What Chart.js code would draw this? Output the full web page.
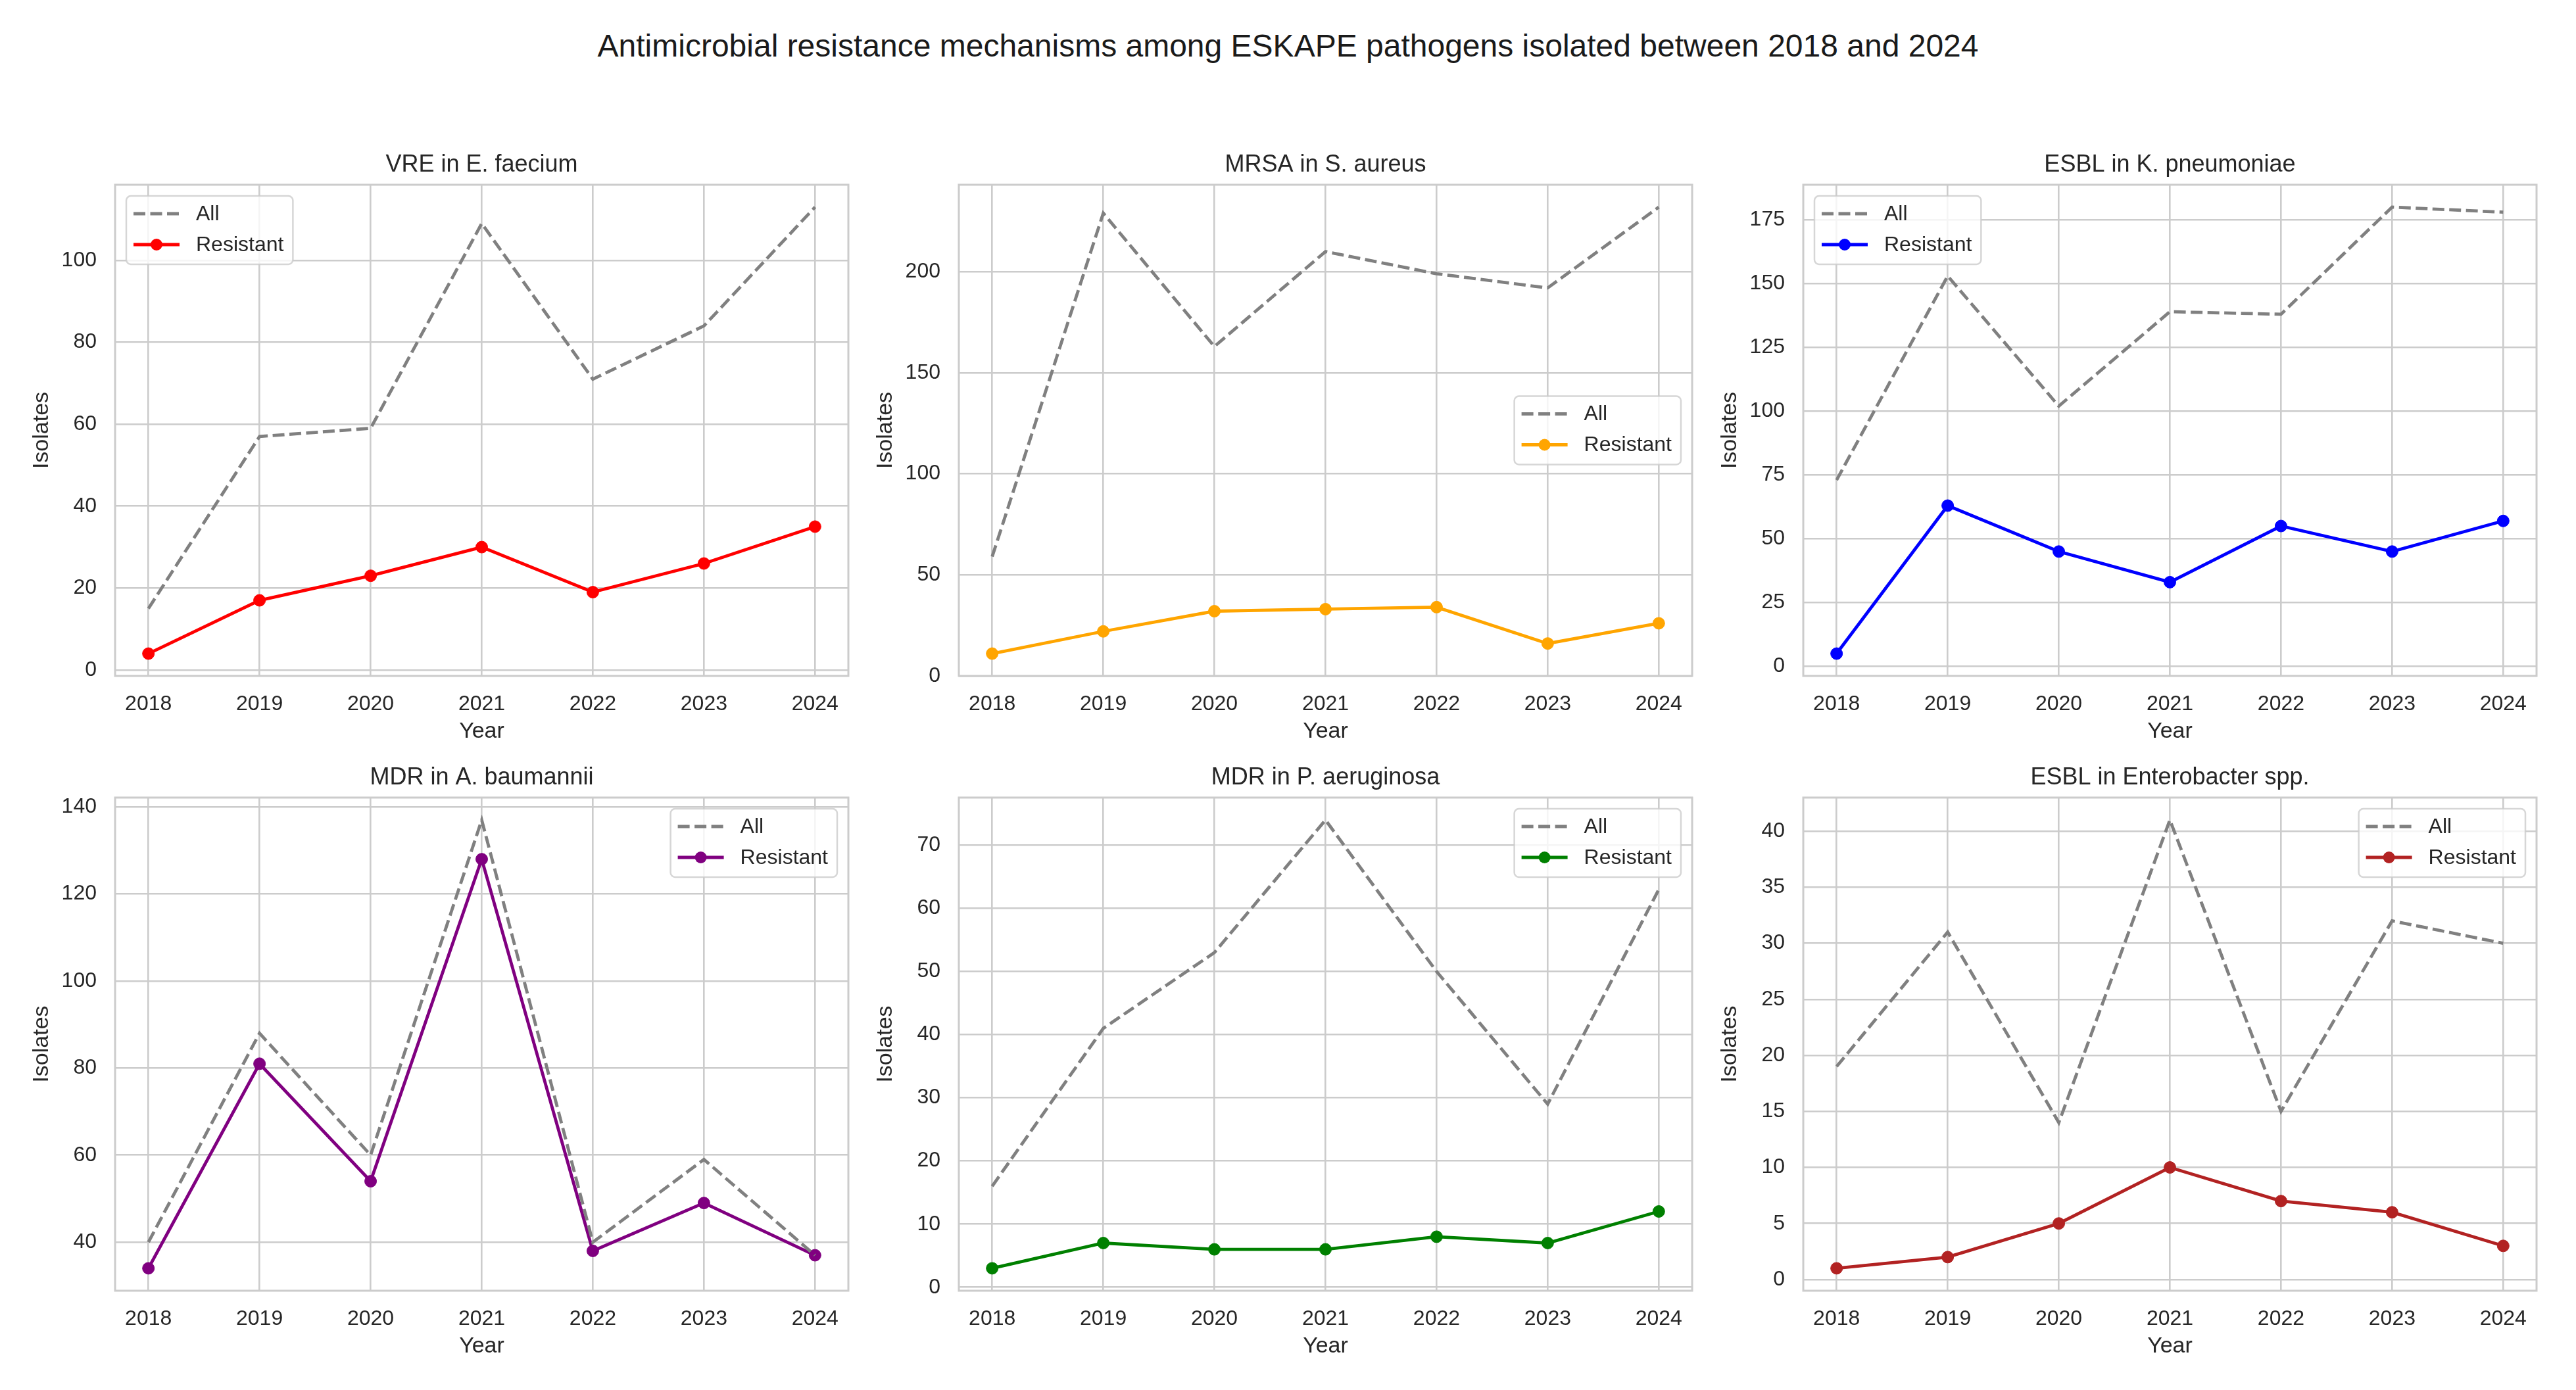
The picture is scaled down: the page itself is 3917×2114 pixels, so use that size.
<!DOCTYPE html>
<html lang="en">
<head>
    <meta charset="UTF-8">
    <title>ESKAPE resistance mechanisms 2018-2024</title>
    <script src="https://cdn.jsdelivr.net/npm/chart.js"></script>
    <style>
        html, body { margin: 0; padding: 0; background: #fff; }
        body { width: 3917px; height: 2114px; position: relative; overflow: hidden; font-family: Arial, "Liberation Sans", sans-serif; }
        #suptitle { position: absolute; left: 0; top: 40px; width: 3917px; line-height: 60px; text-align: center; font-size: 48px; color: #1a1a1a; }
        canvas { position: absolute; }
    </style>
</head>
<body>
    <div id="suptitle">Antimicrobial resistance mechanisms among ESKAPE pathogens isolated between 2018 and 2024</div>

    <script>
        // data
        const years = [2018, 2019, 2020, 2021, 2022, 2023, 2024];

        const vreAll = [15, 57, 59, 109, 71, 84, 113];
        const vreRes = [4, 17, 23, 30, 19, 26, 35];
        const vreTicks = [0, 20, 40, 60, 80, 100];

        const mrsaAll = [59, 229, 163, 210, 199, 192, 232];
        const mrsaRes = [11, 22, 32, 33, 34, 16, 26];
        const mrsaTicks = [0, 50, 100, 150, 200];

        const kpnAll = [73, 153, 102, 139, 138, 180, 178];
        const kpnRes = [5, 63, 45, 33, 55, 45, 57];
        const kpnTicks = [0, 25, 50, 75, 100, 125, 150, 175];

        const abaAll = [40, 88, 60, 137, 40, 59, 37];
        const abaRes = [34, 81, 54, 128, 38, 49, 37];
        const abaTicks = [40, 60, 80, 100, 120, 140];

        const paeAll = [16, 41, 53, 74, 50, 29, 63];
        const paeRes = [3, 7, 6, 6, 8, 7, 12];
        const paeTicks = [0, 10, 20, 30, 40, 50, 60, 70];

        const entAll = [19, 31, 14, 41, 15, 32, 30];
        const entRes = [1, 2, 5, 10, 7, 6, 3];
        const entTicks = [0, 5, 10, 15, 20, 25, 30, 35, 40];

        const panels = [
            { title: 'VRE in E. faecium', all: vreAll, res: vreRes, ticks: vreTicks, color: '#ff0000', loc: 'upper left', col: 0, row: 0 },
            { title: 'MRSA in S. aureus', all: mrsaAll, res: mrsaRes, ticks: mrsaTicks, color: '#ffa500', loc: 'center right', col: 1, row: 0 },
            { title: 'ESBL in K. pneumoniae', all: kpnAll, res: kpnRes, ticks: kpnTicks, color: '#0000ff', loc: 'upper left', col: 2, row: 0 },
            { title: 'MDR in A. baumannii', all: abaAll, res: abaRes, ticks: abaTicks, color: '#800080', loc: 'upper right', col: 0, row: 1 },
            { title: 'MDR in P. aeruginosa', all: paeAll, res: paeRes, ticks: paeTicks, color: '#008000', loc: 'upper right', col: 1, row: 1 },
            { title: 'ESBL in Enterobacter spp.', all: entAll, res: entRes, ticks: entTicks, color: '#b22222', loc: 'upper right', col: 2, row: 1 }
        ];

        // plot-area geometry (page pixels)
        const plotLefts = [175, 1458, 2742];
        const plotTops = [281, 1213];
        const plotHeights = [747, 750];
        const plotWidth = 1115;
        const leftRoom = 175, topRoom = 110, bottomRoom = 130, rightRoom = 30;

        const ink = '#262626';
        const gridColor = '#cccccc';
        const fontFamily = 'Arial, "Liberation Sans", sans-serif';
        Chart.defaults.font.family = fontFamily;

        // matplotlib-like 5% margins
        function padded(vals) {
            const lo = Math.min(...vals), hi = Math.max(...vals);
            const m = (hi - lo) * 0.05;
            return [lo - m, hi + m];
        }

        // all four spines
        const frame = {
            id: 'frame',
            beforeDatasetsDraw(chart) {
                const { ctx, chartArea: a } = chart;
                ctx.save();
                ctx.strokeStyle = gridColor;
                ctx.lineWidth = 3;
                ctx.strokeRect(a.left, a.top, a.right - a.left, a.bottom - a.top);
                ctx.restore();
            }
        };

        // legend drawn inside the axes like matplotlib's
        const boxLegend = {
            id: 'boxLegend',
            afterDatasetsDraw(chart, args, opts) {
                const { ctx, chartArea: a } = chart;
                const sets = chart.data.datasets;
                ctx.save();
                ctx.font = '32px ' + fontFamily;
                const textW = Math.max(...sets.map(d => ctx.measureText(d.label).width));
                const w = 106 + textW + 14, h = 104;
                const x = opts.loc.includes('left') ? a.left + 17 : a.right - 17 - w;
                const y = opts.loc.startsWith('upper') ? a.top + 17 : (a.top + a.bottom) / 2 - h / 2;

                ctx.beginPath();
                ctx.roundRect(x, y, w, h, 7);
                ctx.fillStyle = 'rgba(255,255,255,0.8)';
                ctx.fill();
                ctx.strokeStyle = 'rgba(204,204,204,0.8)';
                ctx.lineWidth = 2.5;
                ctx.stroke();

                sets.forEach((d, i) => {
                    const cy = y + 27 + i * 47, hx = x + 11;
                    ctx.beginPath();
                    ctx.setLineDash(d.borderDash || []);
                    ctx.strokeStyle = d.borderColor;
                    ctx.lineWidth = d.borderWidth;
                    ctx.moveTo(hx, cy);
                    ctx.lineTo(hx + 70, cy);
                    ctx.stroke();
                    ctx.setLineDash([]);
                    if (d.pointRadius > 0) {
                        ctx.beginPath();
                        ctx.arc(hx + 35, cy, d.pointRadius, 0, Math.PI * 2);
                        ctx.fillStyle = d.pointBackgroundColor;
                        ctx.fill();
                    }
                    ctx.fillStyle = ink;
                    ctx.textBaseline = 'middle';
                    ctx.fillText(d.label, hx + 95, cy + 1);
                });
                ctx.restore();
            }
        };

        const [xMin, xMax] = padded(years);

        panels.forEach(p => {
            const [yMin, yMax] = padded(p.all.concat(p.res));
            const plotH = plotHeights[p.row];
            const cv = document.createElement('canvas');
            cv.width = leftRoom + plotWidth + rightRoom;
            cv.height = topRoom + plotH + bottomRoom;
            cv.style.left = (plotLefts[p.col] - leftRoom) + 'px';
            cv.style.top = (plotTops[p.row] - topRoom) + 'px';
            cv.style.width = cv.width + 'px';
            cv.style.height = cv.height + 'px';
            document.body.appendChild(cv);

            new Chart(cv, {
                type: 'line',
                data: {
                    datasets: [
                        {
                            label: 'All',
                            data: years.map((yr, i) => ({ x: yr, y: p.all[i] })),
                            borderColor: '#808080',
                            borderDash: [18, 7.5],
                            borderWidth: 4.8,
                            pointRadius: 0,
                            pointHoverRadius: 0,
                            tension: 0
                        },
                        {
                            label: 'Resistant',
                            data: years.map((yr, i) => ({ x: yr, y: p.res[i] })),
                            borderColor: p.color,
                            backgroundColor: p.color,
                            pointBackgroundColor: p.color,
                            pointBorderColor: p.color,
                            pointBorderWidth: 1,
                            pointRadius: 9,
                            borderWidth: 4.8,
                            tension: 0
                        }
                    ]
                },
                options: {
                    responsive: false,
                    animation: false,
                    devicePixelRatio: 1,
                    layout: { padding: { left: 0, right: rightRoom, top: 0, bottom: 0 } },
                    plugins: {
                        legend: { display: false },
                        tooltip: { enabled: false },
                        title: {
                            display: true,
                            fullSize: false,
                            text: p.title,
                            color: ink,
                            font: { size: 36, weight: 'normal' },
                            padding: { top: 58.4, bottom: 8.4 }
                        },
                        boxLegend: { loc: p.loc }
                    },
                    scales: {
                        x: {
                            type: 'linear',
                            min: xMin,
                            max: xMax,
                            afterBuildTicks: s => { s.ticks = years.map(v => ({ value: v })); },
                            afterFit: s => { s.height = bottomRoom; },
                            ticks: { callback: v => String(v), color: ink, font: { size: 32 }, padding: 24, maxRotation: 0, autoSkip: false },
                            grid: { color: gridColor, lineWidth: 2.6, drawTicks: false },
                            border: { display: false },
                            title: { display: true, text: 'Year', color: ink, font: { size: 34 }, padding: { top: 0, bottom: 25 } }
                        },
                        y: {
                            min: yMin,
                            max: yMax,
                            afterBuildTicks: s => { s.ticks = p.ticks.map(v => ({ value: v })); },
                            afterFit: s => { s.width = leftRoom; },
                            ticks: { color: ink, font: { size: 32 }, padding: 28, autoSkip: false },
                            grid: { color: gridColor, lineWidth: 2.6, drawTicks: false },
                            border: { display: false },
                            title: { display: true, text: 'Isolates', color: ink, font: { size: 34 }, padding: { top: 43, bottom: 0 } }
                        }
                    }
                },
                plugins: [frame, boxLegend]
            });
        });
    </script>
</body>
</html>
